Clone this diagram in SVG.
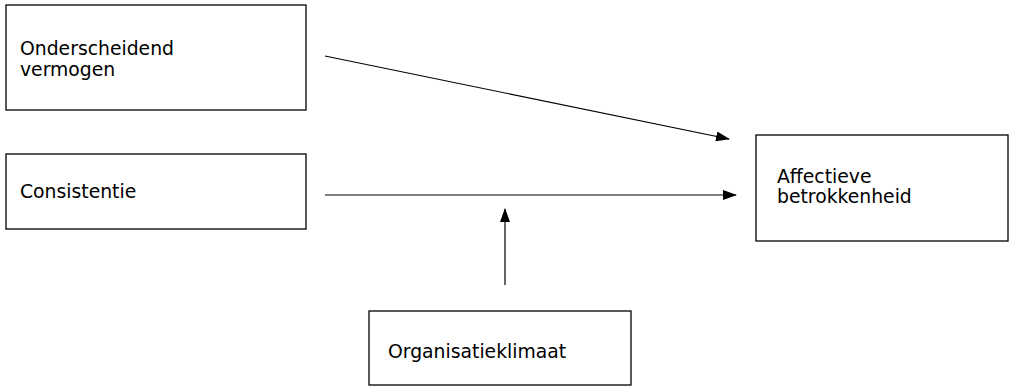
<svg xmlns="http://www.w3.org/2000/svg" width="1014" height="388" viewBox="0 0 1014 388">
<style>
.box{fill:#fff;stroke:#000;stroke-width:1.3}
.t{font-family:"DejaVu Sans",sans-serif;font-size:18.8px;fill:#000}
.c{stroke:#000;stroke-width:1.2;fill:none;marker-end:url(#ah)}
</style>
<defs>
<marker id="ah" markerWidth="14" markerHeight="10" refX="13" refY="5" orient="auto" markerUnits="userSpaceOnUse">
<path d="M0,0 L14,5 L0,10 Z" fill="#000"/>
</marker>
</defs>
<rect width="1014" height="388" fill="#fff"/>
<g id="n1"><rect class="box" x="6" y="5" width="300" height="105"/><text class="t" x="20" y="55">Onderscheidend</text><text class="t" x="20" y="76">vermogen</text></g>
<g id="n2"><rect class="box" x="6" y="154" width="300" height="75"/><text class="t" x="20" y="198">Consistentie</text></g>
<g id="n3"><rect class="box" x="756" y="135" width="252" height="106"/><text class="t" x="777" y="183">Affectieve</text><text class="t" x="777" y="203">betrokkenheid</text></g>
<g id="n4"><rect class="box" x="369" y="311" width="262" height="74"/><text class="t" x="388" y="358">Organisatieklimaat</text></g>
<g id="connectors">
<line class="c" x1="325" y1="56" x2="729" y2="139"/>
<line class="c" x1="325" y1="195" x2="736" y2="195"/>
<line class="c" x1="505" y1="285" x2="505" y2="209"/>
</g>
</svg>
